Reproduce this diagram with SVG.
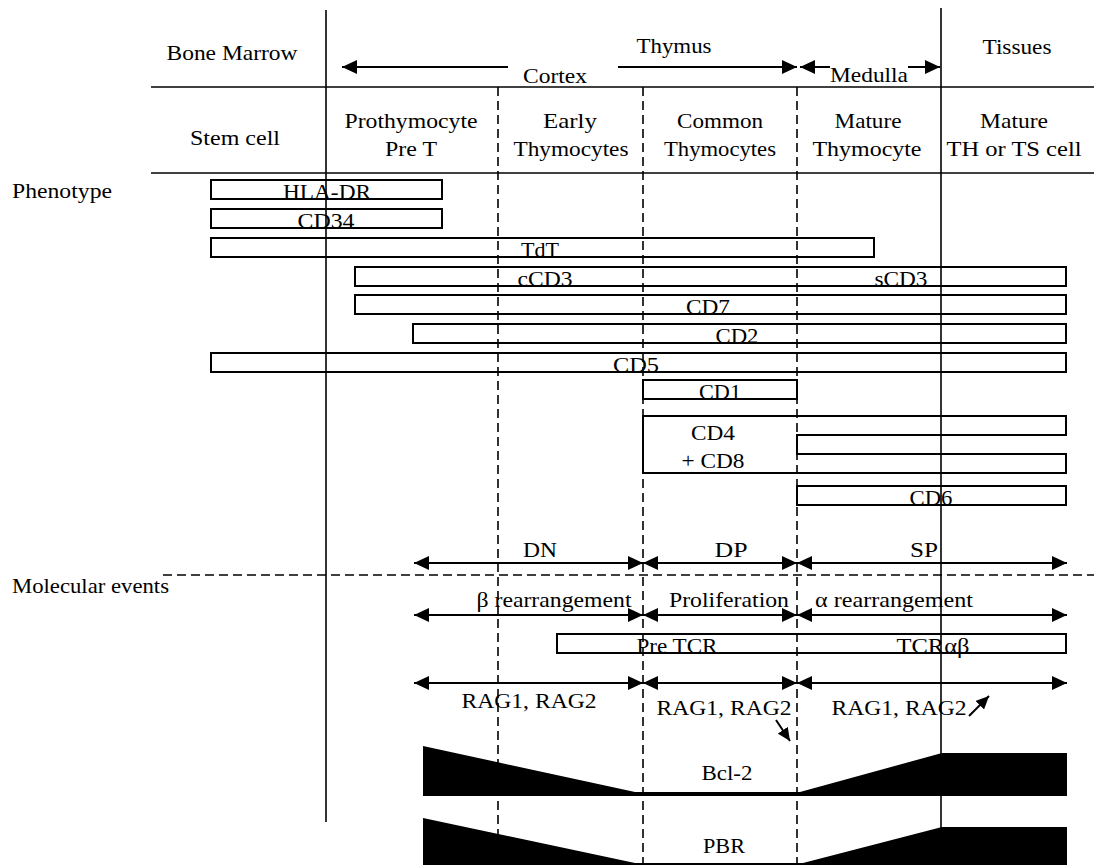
<svg xmlns="http://www.w3.org/2000/svg" width="1094" height="865" viewBox="0 0 1094 865">
<style>
.t{font-family:"Liberation Serif","Times New Roman",serif;font-size:22px;fill:#000}
.c{text-anchor:middle}
.ln{stroke:#000;stroke-width:1.6;fill:none}
.dash{stroke:#000;stroke-width:1.6;stroke-dasharray:9 5;fill:none}
.bar{fill:none;stroke:#000;stroke-width:2}
.arr{stroke:#000;stroke-width:2;fill:none}
.two{marker-start:url(#ah);marker-end:url(#ah)}
.one{marker-end:url(#ah)}
.sm{stroke:#000;stroke-width:2;marker-end:url(#ahs)}
.blk{fill:#000;stroke:none}
</style>
<defs>
<marker id="ah" viewBox="0 0 15 14" refX="15" refY="7" markerWidth="15" markerHeight="14" markerUnits="userSpaceOnUse" orient="auto-start-reverse"><path d="M0,0 L15,7 L0,14 z" fill="#000"/></marker>
<marker id="ahs" viewBox="0 0 13 12" refX="13" refY="6" markerWidth="13" markerHeight="12" markerUnits="userSpaceOnUse" orient="auto"><path d="M0,0 L13,6 L0,12 z" fill="#000"/></marker>
</defs>
<rect width="1094" height="865" fill="#fff"/>

<g id="grid">
<line class="ln" x1="151" y1="87" x2="1094" y2="87"/>
<line class="ln" x1="151" y1="173" x2="1094" y2="173"/>
<line class="ln" x1="326" y1="10" x2="326" y2="822"/>
<line class="ln" x1="941" y1="8" x2="941" y2="865"/>
<line class="dash" x1="498" y1="87" x2="498" y2="865"/>
<line class="dash" x1="643" y1="87" x2="643" y2="865"/>
<line class="dash" x1="797" y1="87" x2="797" y2="865"/>
<line class="dash" x1="163" y1="575" x2="1094" y2="575"/>
</g>

<g id="header">
<text class="t c" x="232" y="60" textLength="131" lengthAdjust="spacingAndGlyphs">Bone Marrow</text>
<text class="t c" x="674" y="53" textLength="75" lengthAdjust="spacingAndGlyphs">Thymus</text>
<text class="t c" x="555" y="83" textLength="64" lengthAdjust="spacingAndGlyphs">Cortex</text>
<text class="t c" x="869" y="82" textLength="78" lengthAdjust="spacingAndGlyphs">Medulla</text>
<text class="t c" x="1017" y="54" textLength="69" lengthAdjust="spacingAndGlyphs">Tissues</text>
</g>

<g id="stages">
<text class="t c" x="235" y="145" textLength="90" lengthAdjust="spacingAndGlyphs">Stem cell</text>
<text class="t c" x="411" y="128" textLength="133" lengthAdjust="spacingAndGlyphs">Prothymocyte</text>
<text class="t c" x="411" y="156" textLength="52" lengthAdjust="spacingAndGlyphs">Pre T</text>
<text class="t c" x="570" y="128" textLength="54" lengthAdjust="spacingAndGlyphs">Early</text>
<text class="t c" x="571" y="156" textLength="115" lengthAdjust="spacingAndGlyphs">Thymocytes</text>
<text class="t c" x="720" y="128" textLength="86" lengthAdjust="spacingAndGlyphs">Common</text>
<text class="t c" x="720" y="156" textLength="112" lengthAdjust="spacingAndGlyphs">Thymocytes</text>
<text class="t c" x="868" y="128" textLength="67" lengthAdjust="spacingAndGlyphs">Mature</text>
<text class="t c" x="867" y="156" textLength="109" lengthAdjust="spacingAndGlyphs">Thymocyte</text>
<text class="t c" x="1014" y="128" textLength="68" lengthAdjust="spacingAndGlyphs">Mature</text>
<text class="t c" x="1014" y="156" textLength="135" lengthAdjust="spacingAndGlyphs">TH or TS cell</text>
</g>

<g id="section-labels">
<text class="t" x="12" y="198" textLength="100" lengthAdjust="spacingAndGlyphs">Phenotype</text>
<text class="t" x="12" y="593" textLength="157" lengthAdjust="spacingAndGlyphs">Molecular events</text>
</g>

<g id="hla-dr"><rect class="bar" x="211" y="180" width="231" height="19"/><text class="t c" x="327" y="199" textLength="88" lengthAdjust="spacingAndGlyphs">HLA-DR</text></g>
<g id="cd34"><rect class="bar" x="211" y="209" width="231" height="19"/><text class="t c" x="326" y="228" textLength="57" lengthAdjust="spacingAndGlyphs">CD34</text></g>
<g id="tdt"><rect class="bar" x="211" y="238" width="663" height="19"/><text class="t c" x="540" y="257" textLength="38" lengthAdjust="spacingAndGlyphs">TdT</text></g>
<g id="cd3"><rect class="bar" x="355" y="267" width="711" height="19"/><text class="t c" x="545" y="286" textLength="55" lengthAdjust="spacingAndGlyphs">cCD3</text><text class="t c" x="901" y="286" textLength="53" lengthAdjust="spacingAndGlyphs">sCD3</text></g>
<g id="cd7"><rect class="bar" x="355" y="295" width="711" height="19"/><text class="t c" x="708" y="314" textLength="44" lengthAdjust="spacingAndGlyphs">CD7</text></g>
<g id="cd2"><rect class="bar" x="413" y="324" width="653" height="19"/><text class="t c" x="737" y="343" textLength="43" lengthAdjust="spacingAndGlyphs">CD2</text></g>
<g id="cd5"><rect class="bar" x="211" y="353" width="855" height="19"/><text class="t c" x="636" y="372" textLength="46" lengthAdjust="spacingAndGlyphs">CD5</text></g>
<g id="cd1"><rect class="bar" x="643" y="380" width="154" height="19"/><text class="t c" x="720" y="399" textLength="42" lengthAdjust="spacingAndGlyphs">CD1</text></g>
<g id="cd4-cd8"><path class="bar" d="M643,416 H1066 V435 H797 V454 H1066 V473 H643 Z"/><text class="t c" x="713" y="440" textLength="44" lengthAdjust="spacingAndGlyphs">CD4</text><text class="t c" x="713" y="468" textLength="63" lengthAdjust="spacingAndGlyphs">+ CD8</text></g>
<g id="cd6"><rect class="bar" x="797" y="486" width="269" height="19"/><text class="t c" x="931" y="505" textLength="43" lengthAdjust="spacingAndGlyphs">CD6</text></g>
<g id="pre-tcr"><rect class="bar" x="557" y="634" width="509" height="19"/><text class="t c" x="677" y="653" textLength="81" lengthAdjust="spacingAndGlyphs">Pre TCR</text><text class="t c" x="933" y="653" textLength="73" lengthAdjust="spacingAndGlyphs">TCRαβ</text></g>

<g id="bcl-2"><polygon class="blk" points="423,746 635,792 800,792 942,753 1067,753 1067,796 423,796"/><text class="t c" x="727" y="780" textLength="51" lengthAdjust="spacingAndGlyphs">Bcl-2</text></g>
<g id="pbr"><polygon class="blk" points="423,818 635,863 803,863 942,827 1067,827 1067,865 423,865"/><text class="t c" x="724" y="853" textLength="42" lengthAdjust="spacingAndGlyphs">PBR</text></g>

<g id="connectors">
<line class="arr one" x1="508" y1="67" x2="342" y2="67"/>
<line class="arr one" x1="618" y1="67" x2="797" y2="67"/>
<line class="arr one" x1="830" y1="67" x2="800" y2="67"/>
<line class="arr one" x1="908" y1="67" x2="940" y2="67"/>

<line class="arr two" x1="414" y1="563" x2="643" y2="563"/>
<line class="arr two" x1="643" y1="563" x2="797" y2="563"/>
<line class="arr two" x1="797" y1="563" x2="1067" y2="563"/>

<line class="arr two" x1="414" y1="615" x2="643" y2="615"/>
<line class="arr two" x1="643" y1="615" x2="797" y2="615"/>
<line class="arr two" x1="797" y1="615" x2="1067" y2="615"/>

<line class="arr two" x1="414" y1="683" x2="643" y2="683"/>
<line class="arr two" x1="643" y1="683" x2="797" y2="683"/>
<line class="arr two" x1="797" y1="683" x2="1067" y2="683"/>

<line class="sm" x1="776" y1="720" x2="790" y2="741"/>
<line class="sm" x1="969" y1="716" x2="989" y2="696"/>
</g>

<g id="event-labels">
<text class="t c" x="540" y="557" textLength="34" lengthAdjust="spacingAndGlyphs">DN</text>
<text class="t c" x="731" y="557" textLength="33" lengthAdjust="spacingAndGlyphs">DP</text>
<text class="t c" x="924" y="557" textLength="28" lengthAdjust="spacingAndGlyphs">SP</text>
<text class="t c" x="554" y="607" textLength="155" lengthAdjust="spacingAndGlyphs">β rearrangement</text>
<text class="t c" x="729" y="607" textLength="120" lengthAdjust="spacingAndGlyphs">Proliferation</text>
<text class="t c" x="894" y="607" textLength="158" lengthAdjust="spacingAndGlyphs">α rearrangement</text>
<text class="t c" x="529" y="708" textLength="135" lengthAdjust="spacingAndGlyphs">RAG1, RAG2</text>
<text class="t c" x="724" y="715" textLength="135" lengthAdjust="spacingAndGlyphs">RAG1, RAG2</text>
<text class="t c" x="899" y="715" textLength="135" lengthAdjust="spacingAndGlyphs">RAG1, RAG2</text>
</g>
</svg>
